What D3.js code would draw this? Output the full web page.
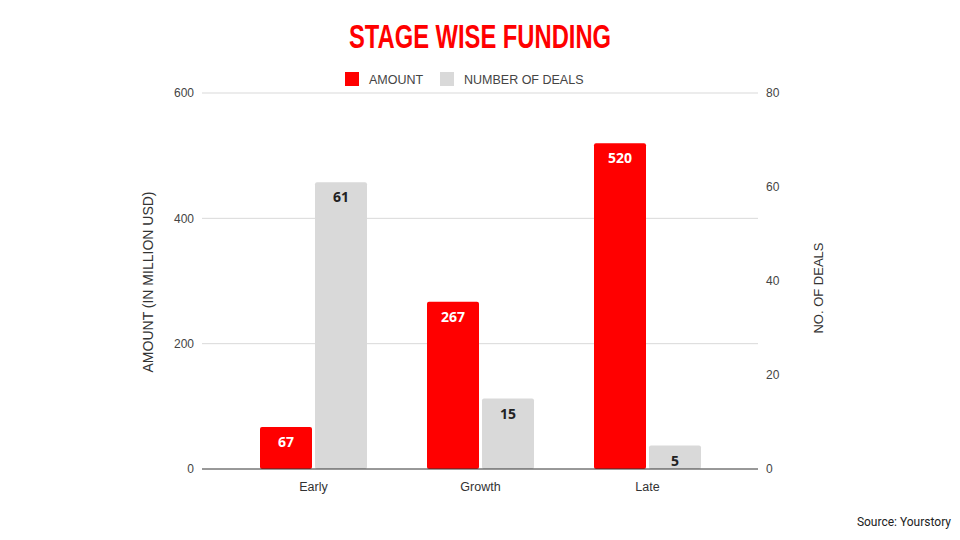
<!DOCTYPE html>
<html><head><meta charset="utf-8">
<script src="https://cdn.jsdelivr.net/npm/d3@7"></script>
<style>body{margin:0;background:#fff}svg{display:block}</style>
</head><body>
<svg id="c" width="960" height="540"></svg>
<script>
const categories = ["Early", "Growth", "Late"];
const amount = [67, 267, 520];
const deals = [61, 15, 5];
const leftTicks = [0, 200, 400, 600];
const rightTicks = [0, 20, 40, 60, 80];

(function () {
const svg = d3.select("#c");
const plotTop = 93, bottom = 469, plotL = 202, plotR = 758;
const x = d3.scaleBand().domain(categories).range([230, 731]).paddingInner(0).paddingOuter(0);
const yL = d3.scaleLinear().domain([0, 600]).range([bottom, plotTop]);
const yR = d3.scaleLinear().domain([0, 80]).range([bottom, plotTop]);
const barW = 52, gap = 3;
const red = "#ff0000", gray = "#d9d9d9";
const font = "'Liberation Sans', Arial, sans-serif";
const labFont = "'Open Sans', Roboto, sans-serif";

// title
svg.append("text").attr("x", 480).attr("y", 48).attr("text-anchor", "middle")
  .attr("font-family", "'Liberation Sans', Arial, sans-serif")
  .attr("font-weight", "bold").attr("font-size", 33).attr("fill", red)
  .attr("textLength", 262).attr("lengthAdjust", "spacingAndGlyphs").text("STAGE WISE FUNDING");

// legend
const lg = svg.append("g");
lg.append("rect").attr("x", 345).attr("y", 72).attr("width", 14).attr("height", 14).attr("fill", red);
lg.append("text").attr("x", 369).attr("y", 84).attr("font-family", font).attr("font-size", 12.5).attr("fill", "#444").text("AMOUNT");
lg.append("rect").attr("x", 440).attr("y", 72).attr("width", 14).attr("height", 14).attr("fill", gray);
lg.append("text").attr("x", 464).attr("y", 84).attr("font-family", font).attr("font-size", 12.5).attr("fill", "#444").text("NUMBER OF DEALS");

// gridlines (left axis)
svg.append("g").selectAll("line").data(leftTicks.filter(d => d > 0)).join("line")
  .attr("x1", plotL).attr("x2", plotR).attr("y1", d => yL(d)).attr("y2", d => yL(d))
  .attr("stroke", "#d9d9d9").attr("stroke-width", 1);

// left axis labels
const ax = d3.axisLeft(yL).tickValues(leftTicks).tickSize(0).tickPadding(0);
const gL = svg.append("g").attr("transform", `translate(${plotL - 8},0)`).call(ax);
gL.select(".domain").remove();
gL.selectAll("text").attr("font-family", font).attr("font-size", 12).attr("fill", "#444");

const axR = d3.axisRight(yR).tickValues(rightTicks).tickSize(0).tickPadding(0);
const gR = svg.append("g").attr("transform", `translate(${plotR + 8},0)`).call(axR);
gR.select(".domain").remove();
gR.selectAll("text").attr("font-family", font).attr("font-size", 12).attr("fill", "#444");

// bars
const cx = d => x(d) + x.bandwidth() / 2;
svg.append("g").selectAll("rect").data(categories).join("rect")
  .attr("x", d => cx(d) - gap / 2 - barW).attr("width", barW)
  .attr("y", (d, i) => yL(amount[i])).attr("height", (d, i) => bottom - yL(amount[i]))
  .attr("fill", red).attr("rx", 2);
svg.append("g").selectAll("rect").data(categories).join("rect")
  .attr("x", d => cx(d) + gap / 2).attr("width", barW)
  .attr("y", (d, i) => yR(deals[i])).attr("height", (d, i) => bottom - yR(deals[i]))
  .attr("fill", gray).attr("rx", 2);

// value labels
svg.append("g").selectAll("text").data(categories).join("text")
  .attr("x", d => cx(d) - gap / 2 - barW / 2).attr("y", (d, i) => yL(amount[i]) + 20)
  .attr("text-anchor", "middle").attr("font-family", labFont).attr("font-weight", "bold")
  .attr("font-size", 14).attr("fill", "#fff").text((d, i) => amount[i]);
svg.append("g").selectAll("text").data(categories).join("text")
  .attr("x", d => cx(d) + gap / 2 + barW / 2).attr("y", (d, i) => yR(deals[i]) + 20)
  .attr("text-anchor", "middle").attr("font-family", labFont).attr("font-weight", "bold")
  .attr("font-size", 14).attr("fill", "#222").text((d, i) => deals[i]);

// baseline
svg.append("line").attr("x1", plotL).attr("x2", plotR).attr("y1", bottom).attr("y2", bottom)
  .attr("stroke", "#333").attr("stroke-width", 1);

// x axis labels
const axX = d3.axisBottom(x).tickSize(0).tickPadding(0);
const gX = svg.append("g").attr("transform", `translate(0,${bottom + 13})`).call(axX);
gX.select(".domain").remove();
gX.selectAll("text").attr("font-family", font).attr("font-size", 12.5).attr("fill", "#333");

// axis titles
svg.append("text").attr("transform", "translate(153,282) rotate(-90)").attr("text-anchor", "middle")
  .attr("font-family", font).attr("font-size", 14).attr("fill", "#333").text("AMOUNT (IN MILLION USD)");
svg.append("text").attr("transform", "translate(823,288) rotate(-90)").attr("text-anchor", "middle")
  .attr("font-family", font).attr("font-size", 13).attr("fill", "#333").text("NO. OF DEALS");

// source
svg.append("text").attr("x", 951).attr("y", 526).attr("text-anchor", "end")
  .attr("font-family", "Roboto, sans-serif").attr("font-size", 12).attr("fill", "#222").text("Source: Yourstory");
})();
</script>
</body></html>
